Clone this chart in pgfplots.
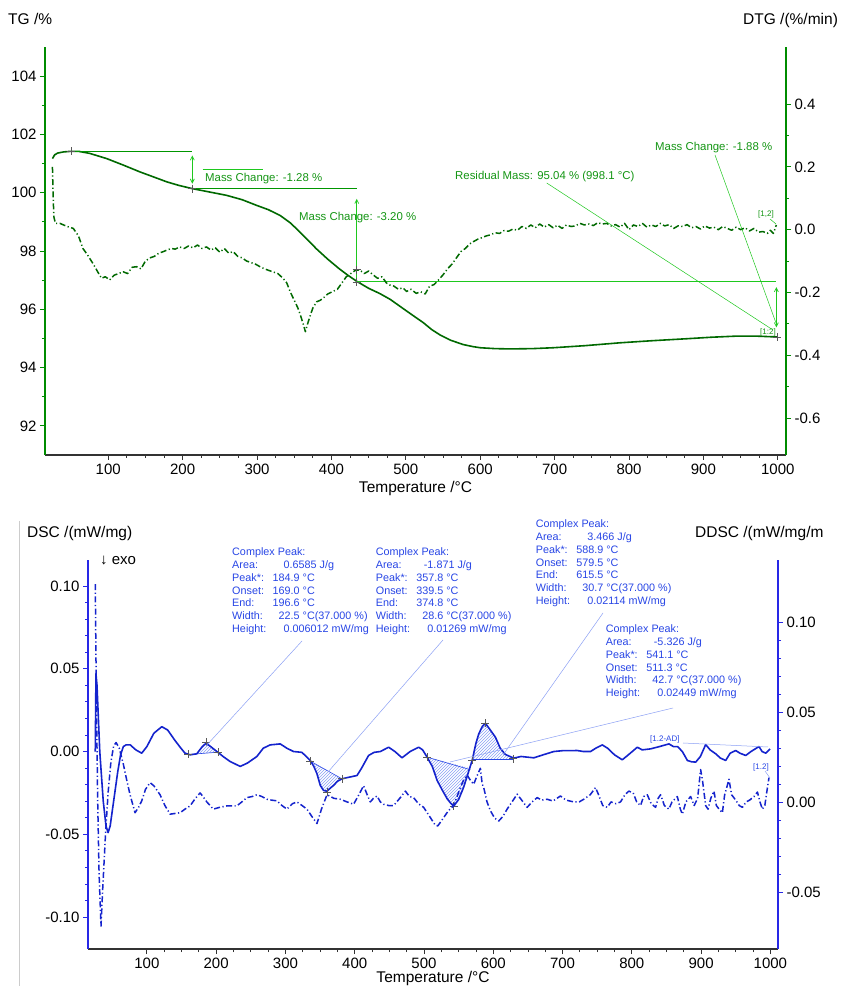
\documentclass[border=0pt]{standalone}
\usepackage{fontspec}
\setmainfont{Liberation Sans}
\usepackage{pgfplots}
\pgfplotsset{compat=1.18}
\usetikzlibrary{arrows.meta,patterns}
\definecolor{tgaxis}{RGB}{0,140,0}
\definecolor{tgcurve}{RGB}{0,105,0}
\definecolor{tgann}{RGB}{20,150,20}
\definecolor{tgline}{RGB}{0,150,0}
\definecolor{tglight}{RGB}{30,200,30}
\definecolor{bluaxis}{RGB}{40,40,230}
\definecolor{blucurve}{RGB}{20,35,205}
\definecolor{bluann}{RGB}{40,70,230}
\definecolor{blulight}{RGB}{140,160,245}
\pgfplotsset{
  common/.style={scale only axis, xmin=15, xmax=1011, tick align=outside,
    major tick length=5pt, minor tick length=3pt,
    ticklabel style={font=\fontsize{15}{15}\selectfont, text=black},
    /pgf/number format/assume math mode=true, /pgf/number format/1000 sep={},
    every axis plot/.append style={line join=round}},
  dashdot/.style={dash pattern=on 6pt off 2.5pt on 1.2pt off 2.5pt},
}
\newcommand\pkl[5]{\node[anchor=base west, inner sep=0pt, text=bluann, font=\fontsize{10.8}{12}\selectfont] at (#1,#2) {\makebox[#4pt][l]{#3}#5};}
\newcommand\pkt[3]{\node[anchor=base west, inner sep=0pt, text=bluann, font=\fontsize{10.8}{12}\selectfont] at (#1,#2) {#3};}
\begin{document}
\begin{tikzpicture}
\path[use as bounding box] (0,0) rectangle (841pt,986pt);
\clip (0,0) rectangle (841pt,986pt);
\fill[white] (0,0) rectangle (841pt,986pt);

% ================= TOP PANEL: TG / DTG =================
\begin{axis}[common, at={(45pt,531pt)}, anchor=south west, width=741pt, height=408pt,
  ymin=91, ymax=105, axis x line*=bottom, axis y line*=left,
  xtick={100,200,...,1000}, minor x tick num=3,
  ytick={92,94,96,98,100,102,104}, minor y tick num=1,
  x axis line style={black!80, line width=1.3pt}, y axis line style={tgaxis, line width=1.5pt},
  xtick style={black!80, line width=0.8pt}, ytick style={tgaxis, line width=0.8pt}]
\addplot[tgcurve, line width=1.6pt] table {
25 101.17
28 101.30
32 101.36
40 101.40
50 101.42
60 101.42
75 101.35
98 101.17
120 100.95
143 100.71
160 100.55
179 100.37
195 100.25
213 100.14
235 100.03
259 99.91
280 99.76
300 99.56
315 99.42
331 99.22
345 98.96
358 98.64
370 98.33
380 98.07
395 97.72
411 97.38
422 97.17
434 96.96
450 96.72
465 96.54
479 96.34
495 96.05
510 95.78
523 95.55
535 95.30
546 95.12
560 94.94
577 94.79
590 94.72
600 94.68
620 94.65
640 94.64
670 94.65
698 94.68
740 94.75
788 94.85
830 94.92
878 94.99
910 95.04
945 95.08
970 95.08
999 95.05
};
% annotation lines
\addplot[draw=tgline, line width=1.1pt] coordinates {(50,101.42) (213,101.42)};
\addplot[draw=tgline, line width=1.1pt] coordinates {(213,100.14) (434,100.14)};
\addplot[draw=tglight, line width=1.2pt] coordinates {(434,96.95) (998,96.95)};
\addplot[draw=tglight, line width=0.8pt] coordinates {(227,100.79) (308,100.79)};
\addplot[draw=tglight, line width=0.7pt, {Straight Barb[length=4pt,width=4pt]}-{Straight Barb[length=4pt,width=4pt]}] coordinates {(213,101.28) (213,100.31)};
\addplot[draw=tglight, line width=0.7pt, -{Straight Barb[length=4pt,width=4pt]}] coordinates {(434,96.96) (434,99.79)};
\addplot[draw=tglight, line width=0.7pt, {Straight Barb[length=4pt,width=4pt]}-{Straight Barb[length=4pt,width=4pt]}] coordinates {(998,96.76) (998,95.38)};
\addplot[only marks, mark=+, mark size=4pt, black!65, mark options={line width=0.7pt}] coordinates {(50,101.42) (213,100.14) (434,96.94) (999,95.05)};
\end{axis}

\begin{axis}[common, at={(45pt,531pt)}, anchor=south west, width=741pt, height=408pt,
  ymin=-0.718, ymax=0.582, axis x line=none, axis y line*=right,
  ytick={-0.6,-0.4,-0.2,0,0.2,0.4}, yticklabels={-0.6,-0.4,-0.2,0.0,0.2,0.4}, minor y tick num=1,
  y axis line style={tgaxis, line width=1.5pt}, ytick style={tgaxis, line width=0.8pt}]
\addplot[tgcurve, line width=1.5pt, dashdot] table {
25 0.20
26 0.10
27 0.04
29 0.02
35 0.02
45 0.01
53 0.004
60 -0.02
66 -0.06
72 -0.08
80 -0.11
86 -0.135
91 -0.155
96 -0.15
102 -0.16
108 -0.145
114 -0.14
120 -0.134
126 -0.14
132 -0.12
138 -0.118
144 -0.125
150 -0.10
156 -0.09
162 -0.085
168 -0.075
174 -0.07
179 -0.065
185 -0.06
190 -0.062
196 -0.055
202 -0.06
208 -0.052
214 -0.058
220 -0.049
226 -0.06
232 -0.055
238 -0.065
244 -0.058
250 -0.072
256 -0.06
262 -0.075
268 -0.07
274 -0.085
280 -0.09
286 -0.10
292 -0.105
298 -0.11
304 -0.118
310 -0.125
316 -0.13
322 -0.135
328 -0.14
335 -0.155
340 -0.17
345 -0.20
350 -0.225
355 -0.25
358 -0.27
362 -0.30
365 -0.325
368 -0.30
372 -0.27
375 -0.25
380 -0.23
385 -0.225
389 -0.218
395 -0.205
402 -0.197
408 -0.19
414 -0.17
420 -0.15
426 -0.14
432 -0.13
438 -0.128
444 -0.14
450 -0.132
456 -0.144
462 -0.155
468 -0.15
474 -0.17
478 -0.176
484 -0.18
490 -0.19
496 -0.185
501 -0.197
507 -0.19
514 -0.203
520 -0.198
526 -0.205
532 -0.18
538 -0.175
544 -0.16
550 -0.144
556 -0.125
562 -0.11
568 -0.09
574 -0.07
580 -0.06
586 -0.045
591 -0.038
597 -0.03
603 -0.025
608 -0.02
613 -0.017
620 -0.01
626 -0.012
632 -0.003
638 -0.005
644 0.002
650 -0.002
656 0.01
662 0.004
668 0.015
674 0.006
680 0.018
686 0.008
692 0.016
698 0.006
704 0.014
710 0.004
716 0.015
722 0.01
728 0.012
734 0.02
740 0.015
746 0.018
752 0.013
758 0.022
764 0.018
770 0.02
776 0.012
782 0.016
788 0.008
794 0.02
800 0.0
806 0.015
812 0.01
818 0.02
824 0.008
830 0.015
836 0.01
842 0.02
848 0.012
854 0.016
860 0.004
866 0.012
872 0.01
878 0.016
884 0.006
890 0.01
896 0.002
902 0.012
908 0.005
914 0.008
920 0.0
926 0.01
932 0.004
938 -0.002
944 0.008
950 0.0
956 0.006
962 -0.004
968 0.004
974 -0.008
980 -0.006
986 -0.012
990 -0.002
994 -0.012
998 0.015
};
\addplot[only marks, mark=+, mark size=4pt, black!65, mark options={line width=0.7pt}] coordinates {(434,-0.128)};
\end{axis}

% ================= BOTTOM PANEL: DSC / DDSC =================
\begin{axis}[common, at={(88pt,37pt)}, anchor=south west, width=690pt, height=389pt,
  ymin=-0.1193, ymax=0.1157, axis x line*=bottom, axis y line*=left,
  xtick={100,200,...,1000}, minor x tick num=3,
  ytick={-0.1,-0.05,0,0.05,0.1}, yticklabels={-0.10,-0.05,0.00,0.05,0.10}, minor y tick num=4,
  x axis line style={black!80, line width=1.3pt}, y axis line style={bluaxis, line width=1.5pt},
  xtick style={black!80, line width=0.8pt}, ytick style={bluaxis, line width=0.8pt}]
% hatched peak areas
\addplot[draw=none, pattern=north east lines, pattern color=blulight] coordinates {(159.7,-0.0018) (162.4,-0.002) (172,-0.0014) (180,0.003) (185.5,0.005) (192,0.003) (201,0.0) (203.3,-0.0004)} -- cycle;
\addplot[draw=none, pattern=north east lines, pattern color=blulight] coordinates {(335.8,-0.0058) (341,-0.009) (345.5,-0.0134) (350.3,-0.0205) (355,-0.0235) (360,-0.024) (365,-0.022) (369.5,-0.0205) (375,-0.018) (381.6,-0.0165)} -- cycle;
\addplot[draw=none, pattern=north east lines, pattern color=blulight] coordinates {(504.5,-0.0034) (512,-0.009) (519,-0.0175) (526,-0.023) (533.4,-0.0285) (538.1,-0.031) (542.9,-0.033) (550,-0.029) (557.3,-0.0215) (563,-0.014) (566,-0.010)} -- cycle;
\addplot[draw=none, pattern=north east lines, pattern color=blulight] coordinates {(570,-0.0044) (575,0.005) (579,0.0106) (584,0.015) (588.7,0.017) (594,0.014) (603.2,0.0086) (610,0.002) (617.6,-0.0018) (625,-0.0035) (628.6,-0.0044)} -- cycle;
% baselines
\addplot[draw=bluann, line width=0.6pt] coordinates {(159.7,-0.0018) (203.3,-0.0004)};
\addplot[draw=bluann, line width=0.6pt] coordinates {(335.8,-0.0058) (381.6,-0.0165)};
\addplot[draw=bluann, line width=0.6pt] coordinates {(504.5,-0.0034) (567,-0.011)};
\addplot[draw=bluann, line width=0.6pt] coordinates {(569.5,-0.0044) (628.6,-0.0044)};
\addplot[blucurve, line width=1.6pt] table {
25.5 0.0
26.5 0.047
28 0.04
32 0.0
37 -0.03
41 -0.045
44 -0.049
47 -0.045
52 -0.03
58 -0.012
62 -0.002
66 0.003
70 0.004
76 0.004
84 0.001
92.6 -0.001
100 0.003
110 0.011
121.5 0.015
130 0.013
140 0.007
148 0.0026
155 -0.001
162.4 -0.002
172 -0.0014
180 0.003
185.5 0.005
192 0.003
201 0.0
210 -0.003
220 -0.006
234.7 -0.009
245 -0.007
258.8 -0.003
268 0.002
278 0.004
292.5 0.0046
302 0.002
311.7 0.0
323.8 -0.0005
335.8 -0.0054
341 -0.009
345.5 -0.0134
350.3 -0.0205
355 -0.0235
360 -0.024
365 -0.022
369.5 -0.0205
375 -0.018
381.6 -0.0165
392 -0.0155
403.3 -0.0145
410 -0.01
420 -0.0024
428 -0.0005
437 0.0
449 0.0026
458 0.0
468.3 -0.0038
480 0.0
492.3 0.0026
498 0.001
504.5 -0.0034
512 -0.009
519 -0.0175
526 -0.023
533.4 -0.0285
538.1 -0.031
542.9 -0.033
550 -0.029
557.3 -0.0215
563 -0.014
569.5 -0.0054
575 0.005
579 0.0106
584 0.015
588.7 0.017
594 0.014
603.2 0.0086
610 0.002
617.6 -0.0018
629.6 -0.004
640 -0.003
658.5 -0.0038
672 -0.002
687.4 0.0
700 0.0005
721.2 0.0006
730 0.0
740.4 0.0
748 0.002
757.3 0.004
765 0.002
775 -0.002
786.2 -0.005
795 -0.002
807.9 0.0026
815 0.001
827.1 0.0016
840 0.003
853.6 0.0046
860 0.003
866 0.003
872.9 0.0
880.2 -0.0054
886 -0.0062
892.2 -0.0064
899 -0.003
906.6 0.0042
913 0.001
921.1 -0.0014
928 -0.004
935.5 -0.0054
942 -0.001
950 0.0006
956 -0.001
964.4 -0.0024
972 0.0
983.6 0.003
988 0.0
993.3 -0.001
999.5 0.0016
};
\addplot[only marks, mark=+, mark size=4pt, black!65, mark options={line width=0.7pt}] coordinates {(159.7,-0.0018) (185.5,0.0056) (203.3,-0.0004) (335.8,-0.0058) (360,-0.0244) (381.6,-0.0165) (504.5,-0.0034) (542.9,-0.033) (569.5,-0.0054) (588.7,0.017) (628.6,-0.0044)};
\end{axis}

\begin{axis}[common, at={(88pt,37pt)}, anchor=south west, width=690pt, height=389pt,
  ymin=-0.0817, ymax=0.1344, axis x line=none, axis y line*=right,
  ytick={-0.05,0,0.05,0.1}, yticklabels={-0.05,0.00,0.05,0.10}, minor y tick num=4,
  y axis line style={bluaxis, line width=1.5pt}, ytick style={bluaxis, line width=0.8pt}]
\addplot[blucurve, line width=1.5pt, dashdot] table {
25.5 0.121
27 0.06
29 0.0
31 -0.04
33.8 -0.069
36 -0.05
40 -0.02
44 0.005
48 0.022
52 0.031
55.5 0.033
60 0.03
66 0.021
71 0.012
75.7 0.004
82.9 -0.006
88 -0.003
92.6 0.0006
98 0.007
104.6 0.0107
110 0.009
119 0.004
126 -0.002
133.5 -0.0068
148 -0.006
155 -0.004
162.4 -0.0022
170 0.002
176.8 0.005
181 0.003
186.5 0.0
196 -0.004
205 -0.003
215.4 -0.0022
229.9 -0.0022
237 0.0
244.3 0.0024
252 0.003
258.8 0.004
266 0.003
273.2 0.0015
280 0.001
287.7 0.0006
295 -0.002
302.1 -0.004
310 -0.001
316.6 0.0
324 -0.002
331 -0.004
338 -0.008
345.5 -0.012
352 -0.004
360 0.004
370 0.002
379.1 0.0015
389 0.0
398.4 -0.0013
406 0.004
412.8 0.009
418 0.004
422.5 0.0
427 0.002
432.2 0.0033
437 0.0
441.7 -0.0013
449 -0.002
456.2 -0.002
465 0.002
473.1 0.006
479 0.003
485 0.0024
492 -0.001
499.5 -0.003
508 -0.008
516.4 -0.013
520 -0.0133
528.4 -0.0087
535 -0.005
542.9 -0.002
552.5 0.008
557 0.012
562.2 0.015
567 0.012
571.8 0.0098
576 0.014
581.4 0.0187
584 0.01
586.2 0.008
591 0.0
596 -0.005
602 -0.009
607.9 -0.0106
614 -0.008
620 -0.004
627 0.0
634.5 0.0043
641 0.001
648.9 -0.003
656 0.0
663.4 0.0024
670 0.001
677.8 0.0015
686 0.0005
697 0.0033
705 0.001
716.3 0.0
724 0.0
730.7 0.0015
740 0.004
747.6 0.008
752 0.004
758 -0.002
764.5 -0.003
770 0.0
777 -0.001
783.7 0.0
790 0.004
795.7 0.006
802 0.005
807 0.0
812.6 -0.002
817 0.003
822.3 0.004
828 -0.001
834.3 -0.003
838 0.002
841.5 0.004
847 -0.002
853.5 -0.004
858 0.0
865.7 0.003
870 -0.004
872.9 -0.0068
878 0.0
884.9 0.003
890 -0.002
895 0.002
899.3 0.018
902 0.012
906.6 -0.002
910 -0.004
914 0.002
918.6 0.006
922 -0.002
926 -0.004
930.7 -0.006
934 0.004
937 0.008
940.2 0.0126
944 0.004
950 0.001
955 -0.002
959.6 -0.003
965 0.0
970 0.001
976.4 0.003
981.3 0.0055
985 0.0
988.5 -0.004
992 -0.002
995 0.006
998 0.0135
};
\end{axis}

% ================= picture-space labels (pixel coordinates, y downward) =================
\begin{scope}[shift={(0pt,986pt)}, x=1pt, y=-1pt]
\draw[black!20, line width=0.8pt] (19,521) -- (19,986);
% axis titles
\node[anchor=base west, inner sep=0pt, font=\fontsize{15.5}{18}\selectfont] at (8,25) {TG /\%};
\begin{scope}
\clip (700,0) rectangle (838,40);
\node[anchor=base west, inner sep=0pt, font=\fontsize{15.5}{18}\selectfont] at (743,25) {DTG /(\%/min)};
\end{scope}
\node[anchor=base, inner sep=0pt, font=\fontsize{15.5}{18}\selectfont] at (415.5,493) {Temperature /°C};
\node[anchor=base west, inner sep=0pt, font=\fontsize{15.5}{18}\selectfont] at (27,538) {DSC /(mW/mg)};
\node[anchor=base west, inner sep=0pt, font=\fontsize{15.5}{18}\selectfont] at (695,538) {DDSC /(mW/mg/m};
\node[anchor=base west, inner sep=0pt, font=\fontsize{15}{18}\selectfont] at (100,565) {↓ exo};
\node[anchor=base, inner sep=0pt, font=\fontsize{15.5}{18}\selectfont] at (433,983) {Temperature /°C};
% top annotations
\node[anchor=base west, inner sep=0pt, text=tgann, font=\fontsize{11.4}{13}\selectfont] at (205,182) {Mass Change: -1.28 \%};
\node[anchor=base west, inner sep=0pt, text=tgann, font=\fontsize{11.4}{13}\selectfont] at (299,221) {Mass Change: -3.20 \%};
\node[anchor=base west, inner sep=0pt, text=tgann, font=\fontsize{11.4}{13}\selectfont] at (455,180) {Residual Mass: 95.04 \% (998.1 °C)};
\node[anchor=base west, inner sep=0pt, text=tgann, font=\fontsize{11.4}{13}\selectfont] at (655,151) {Mass Change: -1.88 \%};
\node[anchor=base west, inner sep=0pt, text=tgann, font=\fontsize{8}{9}\selectfont] at (758,217) {[1,2]};
\node[anchor=base west, inner sep=0pt, text=tgann, font=\fontsize{8}{9}\selectfont] at (760,335) {[1:2]};
\draw[tglight, line width=0.5pt] (546.7,183) -- (773,330);
\draw[tglight, line width=0.5pt] (715,155) -- (776,323);
\draw[tglight, line width=0.5pt] (770,219) -- (776,224);
% bottom annotations
\pkt{232}{556}{Complex Peak:}
\pkl{232}{568.7}{Area:}{51.5}{0.6585 J/g}
\pkl{232}{581.4}{Peak*:}{40.5}{184.9 °C}
\pkl{232}{594.1}{Onset:}{40.5}{169.0 °C}
\pkl{232}{606.8}{End:}{40.5}{196.6 °C}
\pkl{232}{619.5}{Width:}{46.5}{22.5 °C(37.000 \%)}
\pkl{232}{632.2}{Height:}{51.5}{0.006012 mW/mg}
\pkt{375.7}{556}{Complex Peak:}
\pkl{375.7}{568.7}{Area:}{48}{-1.871 J/g}
\pkl{375.7}{581.4}{Peak*:}{40.5}{357.8 °C}
\pkl{375.7}{594.1}{Onset:}{40.5}{339.5 °C}
\pkl{375.7}{606.8}{End:}{40.5}{374.8 °C}
\pkl{375.7}{619.5}{Width:}{46.5}{28.6 °C(37.000 \%)}
\pkl{375.7}{632.2}{Height:}{51.5}{0.01269 mW/mg}
\pkt{535.7}{528}{Complex Peak:}
\pkl{535.7}{540.7}{Area:}{51.5}{3.466 J/g}
\pkl{535.7}{553.4}{Peak*:}{40.5}{588.9 °C}
\pkl{535.7}{566.1}{Onset:}{40.5}{579.5 °C}
\pkl{535.7}{578.8}{End:}{40.5}{615.5 °C}
\pkl{535.7}{591.5}{Width:}{46.5}{30.7 °C(37.000 \%)}
\pkl{535.7}{604.2}{Height:}{51.5}{0.02114 mW/mg}
\pkt{605.7}{633}{Complex Peak:}
\pkl{605.7}{645.7}{Area:}{48}{-5.326 J/g}
\pkl{605.7}{658.4}{Peak*:}{40.5}{541.1 °C}
\pkl{605.7}{671.1}{Onset:}{40.5}{511.3 °C}
\pkl{605.7}{683.8}{Width:}{46.5}{42.7 °C(37.000 \%)}
\pkl{605.7}{696.5}{Height:}{51.5}{0.02449 mW/mg}
\node[anchor=base west, inner sep=0pt, text=bluann, font=\fontsize{8}{9}\selectfont] at (650,741.7) {[1.2-AD]};
\node[anchor=base west, inner sep=0pt, text=bluann, font=\fontsize{8}{9}\selectfont] at (753,770) {[1.2]};
\draw[blulight, line width=0.5pt] (206,746) -- (302,641);
\draw[blulight, line width=0.5pt] (328,772) -- (443,640);
\draw[blulight, line width=0.5pt] (503,755) -- (603,613);
\draw[blulight, line width=0.5pt] (450,762) -- (673,708);
\draw[blulight, line width=0.5pt] (683,743) -- (768,747);
\draw[blulight, line width=0.5pt] (765,771) -- (770,778);
\end{scope}
\end{tikzpicture}
\end{document}
